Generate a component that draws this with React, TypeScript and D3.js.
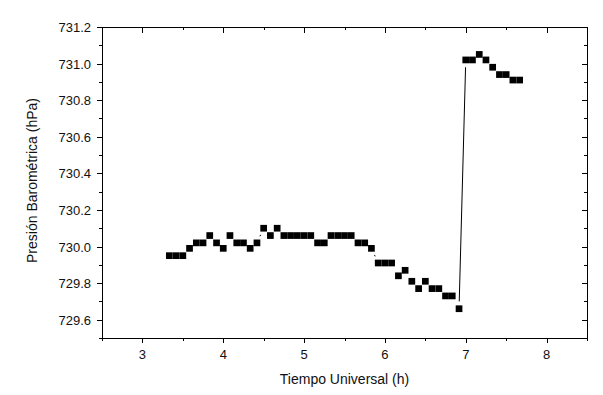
import { useEffect, useRef } from 'react';
import * as d3 from 'd3';

// time in decimal hours (UT), one reading every 5 minutes
const hours = [
  3.333, 3.417, 3.5, 3.583, 3.667, 3.75, 3.833, 3.917, 4.0, 4.083,
  4.167, 4.25, 4.333, 4.417, 4.5, 4.583, 4.667, 4.75, 4.833, 4.917,
  5.0, 5.083, 5.167, 5.25, 5.333, 5.417, 5.5, 5.583, 5.667, 5.75,
  5.833, 5.917, 6.0, 6.083, 6.167, 6.25, 6.333, 6.417, 6.5, 6.583,
  6.667, 6.75, 6.833, 6.917, 7.0, 7.083, 7.167, 7.25, 7.333, 7.417,
  7.5, 7.583, 7.667,
];

const pressure = [
  729.95, 729.95, 729.95, 729.99, 730.02, 730.02, 730.06, 730.02, 729.99, 730.06,
  730.02, 730.02, 729.99, 730.02, 730.10, 730.06, 730.10, 730.06, 730.06, 730.06,
  730.06, 730.06, 730.02, 730.02, 730.06, 730.06, 730.06, 730.06, 730.02, 730.02,
  729.99, 729.91, 729.91, 729.91, 729.84, 729.87, 729.81, 729.77, 729.81, 729.77,
  729.77, 729.73, 729.73, 729.66, 731.02, 731.02, 731.05, 731.02, 730.98, 730.94,
  730.94, 730.91, 730.91,
];

const xTicks = [3, 4, 5, 6, 7, 8];
const yTicks = [729.6, 729.8, 730.0, 730.2, 730.4, 730.6, 730.8, 731.0, 731.2];

function App() {
  const svgRef = useRef<SVGSVGElement>(null);

  useEffect(() => {
    const width = 603;
    const height = 395;
    const margin = { top: 27, right: 16, bottom: 57, left: 102 };
    const font = '"Liberation Sans", Arial, sans-serif';

    const svg = d3.select(svgRef.current)
      .attr('width', width)
      .attr('height', height);

    svg.selectAll('*').remove();

    const x = d3.scaleLinear()
      .domain([2.5, 8.5])
      .range([margin.left, width - margin.right]);

    const y = d3.scaleLinear()
      .domain([729.5, 731.2])
      .range([height - margin.bottom, margin.top]);

    const data = hours.map((h, i) => ({ h, p: pressure[i] }));

    const x0 = x.range()[0], x1 = x.range()[1];
    const y0 = y.range()[0], y1 = y.range()[1];

    const xMinor = d3.range(2.5, 8.51, 0.5).filter(v => !xTicks.includes(v));
    const yMinor = d3.range(7295, 7313, 1).map(v => v / 10).filter(v => !yTicks.some(t => Math.abs(t - v) < 1e-6));

    const g = svg.append('g').attr('shape-rendering', 'crispEdges');

    // frame
    g.append('rect')
      .attr('x', x0 + 0.5).attr('y', y1 + 0.5)
      .attr('width', x1 - x0).attr('height', y0 - y1)
      .attr('fill', 'none').attr('stroke', '#000').attr('stroke-width', 1);

    const tickLine = (ax: number, ay: number, bx: number, by: number) =>
      g.append('line')
        .attr('x1', ax).attr('y1', ay).attr('x2', bx).attr('y2', by)
        .attr('stroke', '#000');

    // bottom/left ticks point out, top/right point in
    xTicks.forEach(v => {
      const px = Math.round(x(v)) + 0.5;
      tickLine(px, y0, px, y0 + 5);
      tickLine(px, y1, px, y1 + 6);
    });
    xMinor.forEach(v => {
      const px = Math.round(x(v)) + 0.5;
      tickLine(px, y0, px, y0 + 3);
      tickLine(px, y1, px, y1 + 3);
    });
    yTicks.forEach(v => {
      const py = Math.round(y(v)) + 0.5;
      tickLine(x0 - 5, py, x0, py);
      tickLine(x1 - 5, py, x1, py);
    });
    yMinor.forEach(v => {
      const py = Math.round(y(v)) + 0.5;
      tickLine(x0 - 3, py, x0, py);
      tickLine(x1 - 3, py, x1, py);
    });

    // tick labels
    svg.append('g').selectAll('text')
      .data(xTicks)
      .enter()
      .append('text')
      .attr('x', d => x(d))
      .attr('y', y0 + 21)
      .attr('text-anchor', 'middle')
      .attr('font-family', font)
      .attr('font-size', 13)
      .attr('fill', '#111')
      .text(d => d3.format('d')(d));

    svg.append('g').selectAll('text')
      .data(yTicks)
      .enter()
      .append('text')
      .attr('x', x0 - 11)
      .attr('y', d => y(d) + 5)
      .attr('text-anchor', 'end')
      .attr('font-family', font)
      .attr('font-size', 13)
      .attr('fill', '#111')
      .text(d => d3.format('.1f')(d));

    // axis titles
    svg.append('text')
      .attr('x', (x0 + x1) / 2)
      .attr('y', 384)
      .attr('text-anchor', 'middle')
      .attr('font-family', font)
      .attr('font-size', 14)
      .attr('fill', '#111')
      .text('Tiempo Universal (h)');

    svg.append('text')
      .attr('transform', `translate(37, ${(y0 + y1) / 2 - 2}) rotate(-90)`)
      .attr('text-anchor', 'middle')
      .attr('font-family', font)
      .attr('font-size', 14)
      .attr('fill', '#111')
      .text('Presión Barométrica (hPa)');

    // connecting line, with a gap left around each symbol
    const gap = 7.3;
    const segs = d3.pairs(data)
      .map(([a, b]) => {
        const ax = x(a.h), ay = y(a.p), bx = x(b.h), by = y(b.p);
        const len = Math.hypot(bx - ax, by - ay);
        if (len <= 2 * gap) return null;
        const ux = (bx - ax) / len, uy = (by - ay) / len;
        return [[ax + ux * gap, ay + uy * gap], [bx - ux * gap, by - uy * gap]] as [number, number][];
      })
      .filter(s => s !== null) as [number, number][][];

    svg.append('g').selectAll('path')
      .data(segs)
      .enter()
      .append('path')
      .attr('d', d => d3.line()(d))
      .attr('fill', 'none')
      .attr('stroke', '#000')
      .attr('stroke-width', 1);

    // square markers
    const s = 6.7;
    svg.append('g').selectAll('rect')
      .data(data)
      .enter()
      .append('rect')
      .attr('x', d => x(d.h) - s / 2)
      .attr('y', d => y(d.p) - s / 2)
      .attr('width', s)
      .attr('height', s)
      .attr('fill', '#000');
  }, []);

  return <svg ref={svgRef} style={{ display: 'block', position: 'absolute', left: 0, top: 0 }}></svg>;
}

export default App;
